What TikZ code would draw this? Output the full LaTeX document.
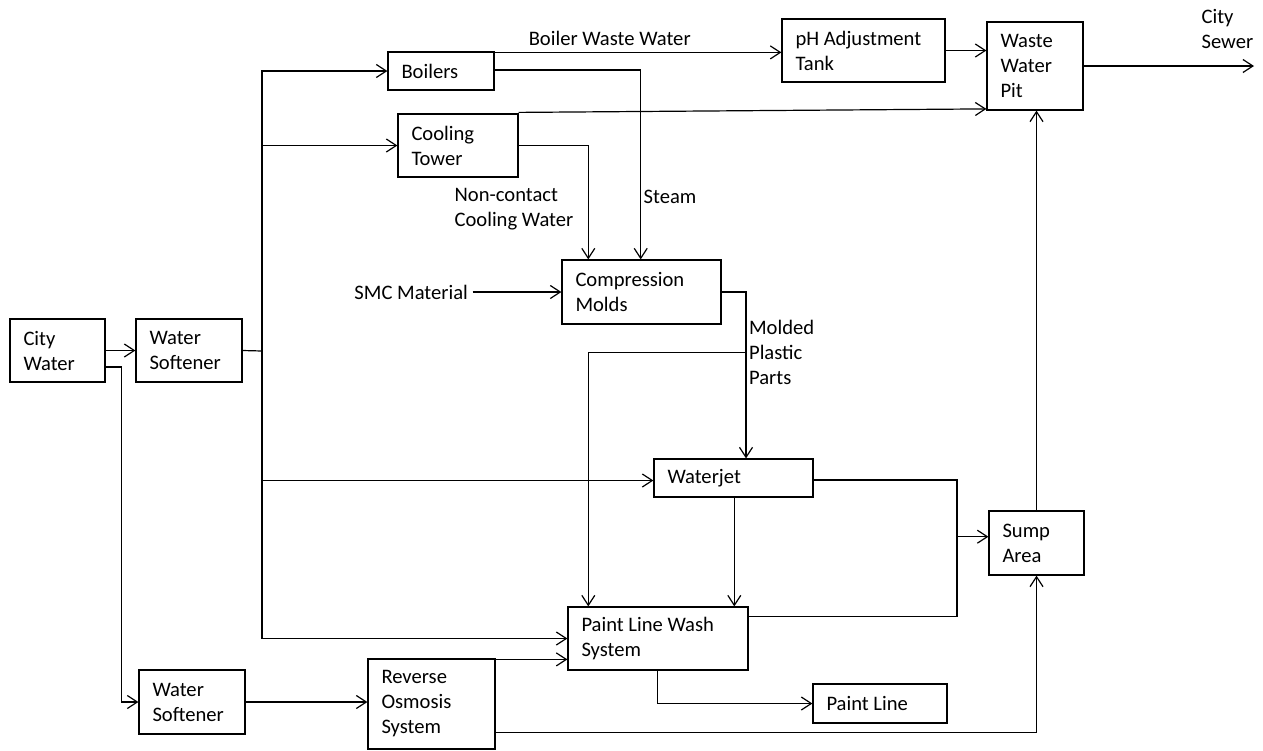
\documentclass[tikz,border=0pt]{standalone}
\usepackage{fontspec}
\setmainfont{Carlito}
\usetikzlibrary{arrows.meta}
\begin{document}
\begin{tikzpicture}[x=1pt,y=-1pt,
  every node/.style={font=\fontsize{20.6}{25}\selectfont},
  blk/.style={draw, rectangle, line width=1.2pt, inner xsep=13.5pt, inner ysep=0pt, align=flush left},
  lbl/.style={inner sep=2pt, align=left},
  arr/.style={-{Straight Barb[length=10pt,width=13pt]}},
  line width=1.2pt]
\useasboundingbox (0,0) rectangle (1263,750);

% boxes
\node[blk, minimum width=95pt,  minimum height=63pt, text width=68pt]  (cw)   at (57.5,350.5) {City\\Water};
\node[blk, minimum width=106pt, minimum height=63pt, text width=79pt]  (ws1)  at (189,350.5)  {Water\\Softener};
\node[blk, minimum width=106pt, minimum height=38pt, text width=79pt]  (boil) at (441,71)     {Boilers};
\node[blk, minimum width=120pt, minimum height=63pt, text width=93pt]  (ct)   at (458,145.5)  {Cooling\\Tower};
\node[blk, minimum width=163pt, minimum height=63pt, text width=136pt] (ph)   at (863.5,50.5) {pH Adjustment\\Tank};
\node[blk, minimum width=96pt,  minimum height=88pt, text width=69pt]  (pit)  at (1035,66)    {Waste\\Water\\Pit};
\node[blk, minimum width=159pt, minimum height=64pt, text width=132pt] (cm)   at (641.5,292)  {Compression\\Molds};
\node[blk, minimum width=159pt, minimum height=38pt, text width=132pt] (wj)   at (733.5,478)  {Waterjet};
\node[blk, minimum width=95pt,  minimum height=64pt, text width=68pt]  (sump) at (1036.5,543) {Sump\\Area};
\node[blk, minimum width=180pt, minimum height=63pt, text width=153pt] (plw)  at (658,638.5)  {Paint Line Wash\\System};
\node[blk, minimum width=134pt, minimum height=39pt, text width=107pt] (pl)   at (880,703.5)  {Paint Line};
\node[blk, minimum width=127pt, minimum height=90pt, text width=100pt] (ro)   at (431.5,704)  {Reverse\\Osmosis\\System};
\node[blk, minimum width=106pt, minimum height=64pt, text width=79pt]  (ws2)  at (192,702)    {Water\\Softener};

% labels
\node[lbl, anchor=base] (bww) at (609.7,45.7) {Boiler Waste Water};
\node[lbl, anchor=west] (ncw) at (452,209.5) {Non-contact\\Cooling Water};
\node[lbl, anchor=west] (stm) at (641,197) {Steam};
\node[lbl, anchor=east, inner xsep=4pt] (smc) at (472.5,292) {SMC Material};
\node[lbl, anchor=west] (mpp) at (746.5,352.5) {Molded\\Plastic\\Parts};
\node[lbl, anchor=west] (sew) at (1199,29) {City\\Sewer};

% coordinates
\coordinate (bus) at (262,351);
\coordinate (sewend) at (1254,66);
\coordinate (mp) at (746,352.7);
\coordinate (sj) at (957,536.7);

% city water and softeners
\draw[arr] (cw.east) -- (ws1.west);
\draw[arr] ([yshift=-16.5pt]cw.east) -- ++(15.7,0) |- (ws2.west);
\draw (ws1.east) -- (bus);
\draw[arr] (bus) |- (boil.west);
\draw[arr] (bus) |- (ct.west);
\draw[arr] (bus) |- ([yshift=-2.5pt]wj.west);
\draw[arr] (bus) |- (plw.west);

% boilers / cooling tower
\draw[arr] ([yshift=-1pt]boil.north east) -- ([yshift=-1pt]boil.north east -| ph.west);
\draw[arr] ([yshift=1pt]boil.east) -| ([xshift=-0.8pt]cm.north);
\draw[arr] (ct.east) -| ([xshift=-53.2pt]cm.north);
\draw[arr] ([yshift=1pt]ct.north east) -- ([yshift=1.7pt]pit.south west);
\draw[arr] (ph.east) -- (ph.east -| pit.west);
\draw[arr] (pit.east) -- (sewend);

% SMC and molds
\draw[arr] (smc.east) -- (cm.west);
\draw[arr] (cm.east) -| ([xshift=12.5pt]wj.north);
\draw[arr] (mp) -| ([xshift=-69.7pt]plw.north);

% waterjet and wash
\draw[arr] ([xshift=0.8pt]wj.south) -- ([xshift=0.8pt]wj.south |- plw.north);
\draw ([yshift=-2pt]wj.east) -| (sj) |- ([yshift=21.8pt]plw.east);
\draw[arr] (sj) -- (sj -| sump.west);
\draw[arr] (sump.north) -- (sump.north |- pit.south);

% bottom
\draw[arr] (ws2.east) -- (ws2.east -| ro.west);
\draw[arr] ([yshift=-1pt]ro.north east) -- ([yshift=-1pt]ro.north east -| plw.west);
\draw[arr] ([yshift=-28.7pt]ro.east) -| (sump.south);
\draw[arr] ([xshift=-0.7pt]plw.south) |- (pl.west);
\end{tikzpicture}
\end{document}
